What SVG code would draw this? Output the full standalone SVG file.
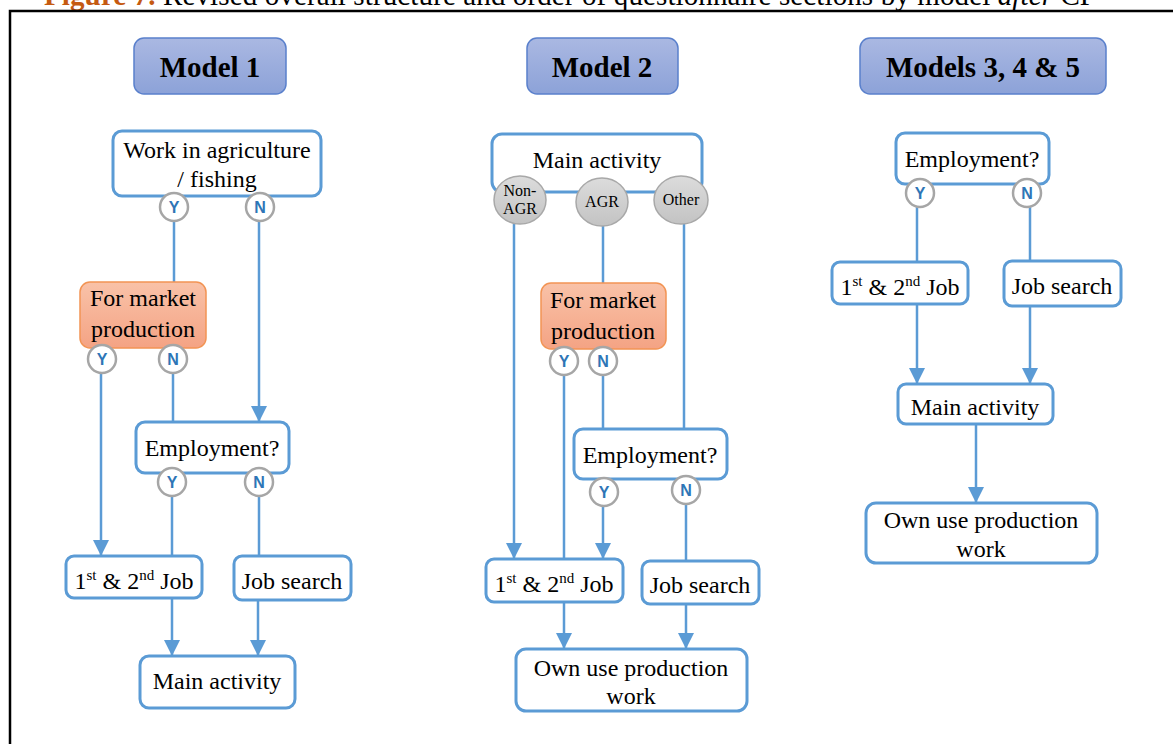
<svg xmlns="http://www.w3.org/2000/svg" width="1173" height="744" viewBox="0 0 1173 744">
<defs>
<linearGradient id="gHead" x1="0" y1="0" x2="0" y2="1"><stop offset="0" stop-color="#AAB8E2"/><stop offset="1" stop-color="#8CA2D8"/></linearGradient>
<linearGradient id="gOrange" x1="0" y1="0" x2="0" y2="1"><stop offset="0" stop-color="#F9C2A8"/><stop offset="1" stop-color="#F4A384"/></linearGradient>
<linearGradient id="gGrey" x1="0" y1="0" x2="0" y2="1"><stop offset="0" stop-color="#DCDCDC"/><stop offset="1" stop-color="#C3C3C3"/></linearGradient>
<marker id="arr" markerUnits="userSpaceOnUse" markerWidth="16" markerHeight="16" viewBox="0 0 16 16" refX="16" refY="8" orient="auto"><path d="M0,0 L16,8 L0,16 z" fill="#5B9BD5"/></marker>
<style>
.t{font-family:"Liberation Serif","Times New Roman",serif;fill:#000;}
.n{font-size:24px;text-anchor:middle;}
.h{font-size:29px;font-weight:bold;text-anchor:middle;}
.box{fill:#fff;stroke:#5B9BD5;stroke-width:3;}
.head{fill:url(#gHead);stroke:#5A80CC;stroke-width:1.5;}
.org{fill:url(#gOrange);stroke:#F29454;stroke-width:1.5;}
.gry{fill:url(#gGrey);stroke:#A8A8A8;stroke-width:1.5;}
.yn{fill:#fff;stroke:#A6A6A6;stroke-width:2.5;}
.ynt{font-family:"Liberation Sans",Arial,sans-serif;font-weight:bold;font-size:16px;fill:#2E75B6;text-anchor:middle;}
.gt{font-size:16px;text-anchor:middle;}
.c{stroke:#5B9BD5;stroke-width:2.5;fill:none;}
.ca{stroke:#5B9BD5;stroke-width:2.5;fill:none;marker-end:url(#arr);}
</style>
</defs>
<rect width="1173" height="744" fill="#fff"/>
<g id="caption">
<text class="t" x="44" y="5" font-size="29" textLength="1052"><tspan font-weight="bold" fill="#C55A11">Figure 7.</tspan> Revised overall structure and order of questionnaire sections by model <tspan font-style="italic">after</tspan> CP</text>
</g>
<g id="frame"><path d="M10,744 L10,11 L1173,11" fill="none" stroke="#000" stroke-width="2.5"/></g>

<g id="connectors">
<line class="c" x1="174" y1="221" x2="174" y2="282"/>
<line class="ca" x1="259" y1="221" x2="259" y2="422"/>
<line class="ca" x1="101" y1="373" x2="101" y2="556"/>
<line class="c" x1="173" y1="373" x2="173" y2="422"/>
<line class="c" x1="172" y1="496" x2="172" y2="556"/>
<line class="c" x1="259" y1="496" x2="259" y2="556"/>
<line class="ca" x1="172" y1="598" x2="172" y2="656"/>
<line class="ca" x1="258" y1="600" x2="258" y2="656"/>
<line class="ca" x1="514" y1="224" x2="514" y2="559"/>
<line class="c" x1="603" y1="226" x2="603" y2="283"/>
<line class="c" x1="684" y1="224" x2="684" y2="429"/>
<line class="c" x1="564" y1="375" x2="564" y2="559"/>
<line class="c" x1="603" y1="375" x2="603" y2="429"/>
<line class="ca" x1="603" y1="506" x2="603" y2="559"/>
<line class="c" x1="686" y1="504" x2="686" y2="561"/>
<line class="ca" x1="564" y1="602" x2="564" y2="649"/>
<line class="ca" x1="686" y1="604" x2="686" y2="649"/>
<line class="c" x1="917" y1="207" x2="917" y2="262"/>
<line class="c" x1="1030" y1="207" x2="1030" y2="261"/>
<line class="ca" x1="917" y1="304" x2="917" y2="384"/>
<line class="ca" x1="1030" y1="306" x2="1030" y2="384"/>
<line class="ca" x1="976" y1="424" x2="976" y2="503"/>
</g>

<g id="head1"><rect class="head" x="134" y="38" width="152" height="56" rx="10"/><text class="t h" x="210" y="77">Model 1</text></g>
<g id="head2"><rect class="head" x="527" y="38" width="151" height="56" rx="10"/><text class="t h" x="602" y="77">Model 2</text></g>
<g id="head3"><rect class="head" x="860" y="38" width="246" height="56" rx="10"/><text class="t h" x="983" y="77">Models 3, 4 &amp; 5</text></g>

<g id="m1-work"><rect class="box" x="113" y="131" width="208" height="65" rx="9"/><text class="t n" x="217" y="158">Work in agriculture</text><text class="t n" x="217" y="187">/ fishing</text></g>
<g id="m1-work-y"><circle class="yn" cx="174" cy="207" r="14"/><text class="ynt" x="174" y="213">Y</text></g>
<g id="m1-work-n"><circle class="yn" cx="260" cy="207" r="14"/><text class="ynt" x="260" y="213">N</text></g>
<g id="m1-market"><rect class="org" x="80" y="282" width="126" height="66" rx="10"/><text class="t n" x="143" y="306">For market</text><text class="t n" x="143" y="337">production</text></g>
<g id="m1-market-y"><circle class="yn" cx="102" cy="359" r="14"/><text class="ynt" x="102" y="365">Y</text></g>
<g id="m1-market-n"><circle class="yn" cx="173" cy="359" r="14"/><text class="ynt" x="173" y="365">N</text></g>
<g id="m1-emp"><rect class="box" x="136" y="422" width="153" height="51" rx="9"/><text class="t n" x="212" y="456">Employment?</text></g>
<g id="m1-emp-y"><circle class="yn" cx="172" cy="482" r="14"/><text class="ynt" x="172" y="488">Y</text></g>
<g id="m1-emp-n"><circle class="yn" cx="259" cy="482" r="14"/><text class="ynt" x="259" y="488">N</text></g>
<g id="m1-job"><rect class="box" x="66" y="556" width="136" height="42" rx="8"/><text class="t n" x="134" y="589">1<tspan font-size="15" dy="-9">st</tspan><tspan dy="9"> &amp; 2</tspan><tspan font-size="15" dy="-9">nd</tspan><tspan dy="9"> Job</tspan></text></g>
<g id="m1-search"><rect class="box" x="234" y="556" width="117" height="44" rx="8"/><text class="t n" x="292" y="589">Job search</text></g>
<g id="m1-main"><rect class="box" x="140" y="656" width="155" height="52" rx="9"/><text class="t n" x="217" y="689">Main activity</text></g>

<g id="m2-main"><rect class="box" x="492" y="134" width="210" height="58" rx="10"/><text class="t n" x="597" y="168">Main activity</text></g>
<g id="m2-nonagr"><ellipse class="gry" cx="520" cy="200" rx="26" ry="24"/><text class="t gt" x="520" y="196">Non-</text><text class="t gt" x="520" y="214">AGR</text></g>
<g id="m2-agr"><ellipse class="gry" cx="602" cy="202" rx="26" ry="24"/><text class="t gt" x="602" y="207">AGR</text></g>
<g id="m2-other"><ellipse class="gry" cx="681" cy="200" rx="27" ry="24"/><text class="t gt" x="681" y="205">Other</text></g>
<g id="m2-market"><rect class="org" x="541" y="283" width="125" height="66" rx="10"/><text class="t n" x="603" y="308">For market</text><text class="t n" x="603" y="339">production</text></g>
<g id="m2-market-y"><circle class="yn" cx="564" cy="361" r="14"/><text class="ynt" x="564" y="367">Y</text></g>
<g id="m2-market-n"><circle class="yn" cx="603" cy="361" r="14"/><text class="ynt" x="603" y="367">N</text></g>
<g id="m2-emp"><rect class="box" x="574" y="429" width="153" height="50" rx="9"/><text class="t n" x="650" y="463">Employment?</text></g>
<g id="m2-emp-y"><circle class="yn" cx="604" cy="492" r="14"/><text class="ynt" x="604" y="498">Y</text></g>
<g id="m2-emp-n"><circle class="yn" cx="686" cy="490" r="14"/><text class="ynt" x="686" y="496">N</text></g>
<g id="m2-job"><rect class="box" x="486" y="559" width="137" height="43" rx="8"/><text class="t n" x="554" y="592">1<tspan font-size="15" dy="-9">st</tspan><tspan dy="9"> &amp; 2</tspan><tspan font-size="15" dy="-9">nd</tspan><tspan dy="9"> Job</tspan></text></g>
<g id="m2-search"><rect class="box" x="642" y="561" width="117" height="43" rx="8"/><text class="t n" x="700" y="593">Job search</text></g>
<g id="m2-own"><rect class="box" x="516" y="649" width="231" height="62" rx="10"/><text class="t n" x="631" y="676">Own use production</text><text class="t n" x="631" y="704">work</text></g>

<g id="m3-emp"><rect class="box" x="896" y="133" width="153" height="51" rx="9"/><text class="t n" x="972" y="167">Employment?</text></g>
<g id="m3-emp-y"><circle class="yn" cx="920" cy="193" r="14"/><text class="ynt" x="920" y="199">Y</text></g>
<g id="m3-emp-n"><circle class="yn" cx="1027" cy="193" r="14"/><text class="ynt" x="1027" y="199">N</text></g>
<g id="m3-job"><rect class="box" x="832" y="262" width="136" height="42" rx="8"/><text class="t n" x="900" y="295">1<tspan font-size="15" dy="-9">st</tspan><tspan dy="9"> &amp; 2</tspan><tspan font-size="15" dy="-9">nd</tspan><tspan dy="9"> Job</tspan></text></g>
<g id="m3-search"><rect class="box" x="1004" y="261" width="117" height="45" rx="8"/><text class="t n" x="1062" y="294">Job search</text></g>
<g id="m3-main"><rect class="box" x="898" y="384" width="155" height="40" rx="8"/><text class="t n" x="975" y="415">Main activity</text></g>
<g id="m3-own"><rect class="box" x="866" y="503" width="231" height="60" rx="10"/><text class="t n" x="981" y="528">Own use production</text><text class="t n" x="981" y="557">work</text></g>
</svg>
